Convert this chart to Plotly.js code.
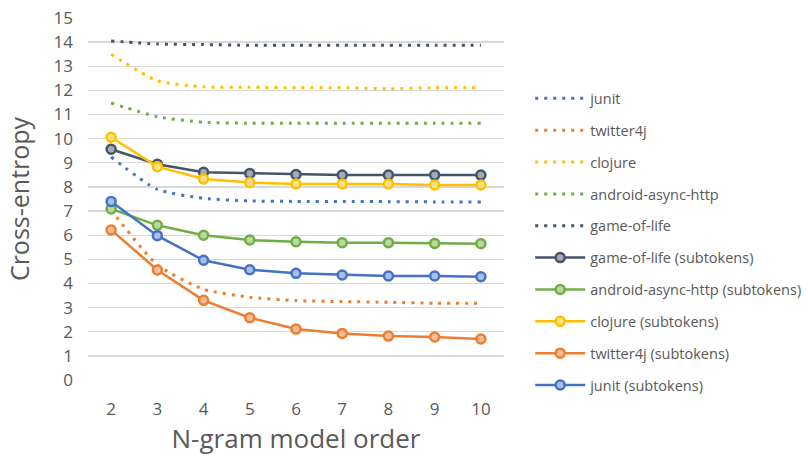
<!DOCTYPE html>
<html>
<head>
<meta charset="utf-8">
<script src="https://cdn.plot.ly/plotly-3.0.1.min.js"></script>
<style>html,body{margin:0;padding:0;background:#fff}#chart{width:808px;height:463px}</style>
</head>
<body>
<div id="chart"></div>
<script>
var orders = [2, 3, 4, 5, 6, 7, 8, 9, 10];

var junit = [9.24, 7.90, 7.53, 7.42, 7.40, 7.40, 7.39, 7.38, 7.38];
var twitter4j = [7.05, 4.77, 3.76, 3.43, 3.29, 3.25, 3.22, 3.18, 3.18];
var clojure = [13.5, 12.40, 12.15, 12.13, 12.11, 12.11, 12.07, 12.11, 12.11];
var androidAsync = [11.48, 10.91, 10.68, 10.64, 10.64, 10.64, 10.64, 10.64, 10.64];
var gameOfLife = [14.05, 13.92, 13.90, 13.87, 13.87, 13.87, 13.87, 13.87, 13.87];

var gameOfLifeSub = [9.56, 8.94, 8.61, 8.56, 8.52, 8.49, 8.49, 8.49, 8.49];
var androidAsyncSub = [7.09, 6.41, 6.00, 5.80, 5.73, 5.69, 5.69, 5.66, 5.65];
var clojureSub = [10.06, 8.84, 8.33, 8.18, 8.12, 8.12, 8.12, 8.08, 8.08];
var twitter4jSub = [6.22, 4.56, 3.30, 2.58, 2.11, 1.93, 1.82, 1.78, 1.70];
var junitSub = [7.40, 5.98, 4.96, 4.57, 4.42, 4.35, 4.31, 4.31, 4.28];

var seriesNames = ['junit', 'twitter4j', 'clojure', 'android-async-http', 'game-of-life',
  'game-of-life (subtokens)', 'android-async-http (subtokens)', 'clojure (subtokens)',
  'twitter4j (subtokens)', 'junit (subtokens)'];

var BLUE = '#4472C4', ORANGE = '#ED7D31', GOLD = '#FFC000', GREEN = '#70AD47', DARK = '#44546A';
var LIGHT = {};
LIGHT[BLUE] = '#a9bfe6'; LIGHT[ORANGE] = '#f6bd98'; LIGHT[GOLD] = '#ffe28a'; LIGHT[GREEN] = '#b9d9a3'; LIGHT[DARK] = '#a3abb6';

function dotted(name, y, color, i) {
  return {x: orders, y: y, name: name, type: 'scatter', mode: 'lines', legendgroup: 'g' + i,
    line: {color: color, width: 3, dash: '3px,6px', shape: 'spline', smoothing: 0.6}};
}
function solid(name, y, color, i) {
  return {x: orders, y: y, name: name, type: 'scatter', mode: 'lines+markers', legendgroup: 'g' + i,
    line: {color: color, width: 2.5},
    marker: {symbol: 'circle', size: 9, color: LIGHT[color], line: {color: color, width: 2.5}}};
}

var data = [
  dotted(seriesNames[0], junit, BLUE, 0),
  dotted(seriesNames[1], twitter4j, ORANGE, 1),
  dotted(seriesNames[2], clojure, GOLD, 2),
  dotted(seriesNames[3], androidAsync, GREEN, 3),
  dotted(seriesNames[4], gameOfLife, DARK, 4),
  solid(seriesNames[5], gameOfLifeSub, DARK, 5),
  solid(seriesNames[6], androidAsyncSub, GREEN, 6),
  solid(seriesNames[7], clojureSub, GOLD, 7),
  solid(seriesNames[8], twitter4jSub, ORANGE, 8),
  solid(seriesNames[9], junitSub, BLUE, 9)
];

var layout = {
  width: 808, height: 463,
  margin: {l: 88, r: 304, t: 18, b: 83, autoexpand: false},
  paper_bgcolor: '#ffffff', plot_bgcolor: '#ffffff',
  font: {family: 'Open Sans, Calibri, Carlito, sans-serif', color: '#595959'},
  showlegend: true,
  legend: {x: 1.063, xanchor: 'left', y: 0.822, yanchor: 'top', traceorder: 'grouped',
    tracegroupgap: 10, font: {size: 14.5, color: '#595959'}, itemwidth: 50, bgcolor: 'rgba(0,0,0,0)'},
  xaxis: {
    type: 'linear', range: [1.5, 10.5], tickvals: orders, ticktext: orders.map(String),
    showgrid: false, zeroline: false, showline: false, ticks: '',
    tickfont: {size: 17, color: '#595959'}, ticklabelstandoff: 17,
    title: {text: 'N-gram model order', font: {size: 26, color: '#595959'}, standoff: 8}
  },
  yaxis: {
    range: [0, 15], dtick: 1, tick0: 0, showgrid: true, gridcolor: '#d9d9d9', gridwidth: 1.3,
    zeroline: false, showline: false, ticks: '',
    tickfont: {size: 17, color: '#595959'}, ticklabelstandoff: 14,
    title: {text: 'Cross-entropy', font: {size: 25, color: '#595959'}, standoff: 16}
  }
};

Plotly.newPlot('chart', data, layout, {displayModeBar: false, staticPlot: true});
</script>
</body>
</html>
